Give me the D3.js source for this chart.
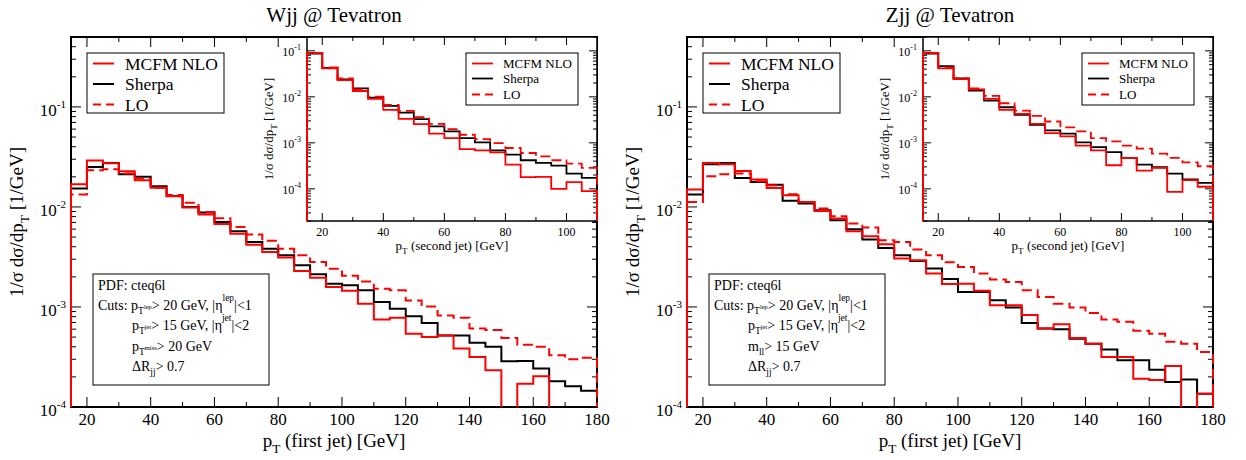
<!DOCTYPE html>
<html>
<head>
<meta charset="utf-8">
<script src="https://cdn.jsdelivr.net/npm/d3@7"></script>
<style>
  body { margin: 0; background: #fff; }
  svg text { font-family: "Liberation Serif", "DejaVu Serif", serif; }
</style>
</head>
<body>
<div id="chart"></div>
<script>
const width = 1246;
const height = 460;

// bin edges (GeV)
const mainEdges = [15, 20, 25, 30, 35, 40, 45, 50, 55, 60, 65, 70, 75, 80, 85, 90, 95, 100,
  105, 110, 115, 120, 125, 130, 135, 140, 145, 150, 155, 160, 165, 170, 175, 180];
const insetEdges = [15, 20, 25, 30, 35, 40, 45, 50, 55, 60, 65, 70, 75, 80, 85, 90, 95, 100, 105, 110];

// Wjj, first jet
const wjjSherpa = [0.0153, 0.0251, 0.0275, 0.0212, 0.0200, 0.0161, 0.0129, 0.0100, 0.00879, 0.00708,
  0.00571, 0.00447, 0.00383, 0.00329, 0.00261, 0.00212, 0.00171, 0.00165, 0.00147, 0.00112,
  0.00096, 0.00081, 0.00069, 0.00052, 0.00052, 0.00044, 0.00040, 0.000286, 0.000288, 0.000242,
  0.000181, 0.000161, 0.000145];
const wjjMcfm = [0.0169, 0.0292, 0.0273, 0.0228, 0.0185, 0.0156, 0.0128, 0.00986, 0.00838, 0.00676,
  0.0054, 0.0042, 0.00355, 0.00312, 0.00229, 0.00196, 0.00158, 0.00145, 0.00108, 0.00075,
  0.00078, 0.00054, 0.00050, 0.00052, 0.000384, 0.000316, 0.000233, 0, 0.000171, 0.000203,
  0, 0, 0];
const wjjLO = [0.0133, 0.0233, 0.0238, 0.0216, 0.0192, 0.0156, 0.0132, 0.0110, 0.0089, 0.0077,
  0.0063, 0.0053, 0.0046, 0.00383, 0.00329, 0.00282, 0.00241, 0.00205, 0.00180, 0.00152,
  0.00147, 0.00116, 0.00101, 0.00082, 0.00078, 0.00061, 0.00059, 0.00049, 0.00042, 0.00040,
  0.00033, 0.00030, 0.00031];

// Wjj, second jet (inset)
const wjj2Sherpa = [0.0875, 0.0428, 0.024, 0.0153, 0.0096, 0.00635, 0.00456, 0.00327, 0.00227, 0.00177,
  0.00127, 0.00102, 0.000687, 0.000554, 0.000418, 0.000366, 0.00032, 0.000215, 0.000173];
const wjj2Mcfm = [0.0905, 0.0415, 0.0232, 0.0134, 0.009, 0.0052, 0.00333, 0.00255, 0.00158, 0.00127,
  0.000734, 0.000687, 0.000622, 0.000337, 0.000179, 0.000182, 0.0001, 0.00014, 0.000089];
const wjj2LO = [0.0905, 0.0435, 0.0252, 0.0146, 0.0101, 0.00668, 0.00496, 0.00361, 0.00259, 0.00199,
  0.0015, 0.00121, 0.00099, 0.000773, 0.000602, 0.000509, 0.000418, 0.000354, 0.000285];

// Zjj, first jet
const zjjSherpa = [0.0133, 0.0267, 0.0275, 0.0195, 0.0178, 0.0167, 0.0115, 0.0108, 0.00927, 0.00736,
  0.00598, 0.00472, 0.00389, 0.00329, 0.00288, 0.00242, 0.0019, 0.00141, 0.00141, 0.00117,
  0.00099, 0.00069, 0.00061, 0.00060, 0.00048, 0.00043, 0.000375, 0.000293, 0.000293, 0.000236,
  0.000178, 0.000188, 0.000136];
const zjjMcfm = [0.0149, 0.0275, 0.0267, 0.0229, 0.0188, 0.0155, 0.0131, 0.0112, 0.00912, 0.00766,
  0.00571, 0.00509, 0.00424, 0.00305, 0.00293, 0.00216, 0.0017, 0.00171, 0.00145, 0.00104,
  0.00104, 0.00083, 0.00061, 0.00067, 0.00049, 0.00043, 0.000316, 0.000316, 0.000192, 0.000186,
  0.000257, 0, 0.000136];
const zjjLO = [0.0112, 0.0203, 0.0212, 0.0216, 0.0181, 0.0165, 0.0134, 0.0112, 0.00964, 0.00807,
  0.00682, 0.00622, 0.00465, 0.00447, 0.00375, 0.00329, 0.0028, 0.00251, 0.00216, 0.00188,
  0.00178, 0.00147, 0.00126, 0.00108, 0.00099, 0.00087, 0.00075, 0.00071, 0.00058, 0.00054,
  0.00045, 0.00043, 0.000355];

// Zjj, second jet (inset)
const zjj2Sherpa = [0.0875, 0.0466, 0.0252, 0.0136, 0.0083, 0.00594, 0.00406, 0.00247, 0.00186, 0.00158,
  0.00102, 0.00081, 0.00063, 0.000469, 0.000337, 0.000295, 0.000215, 0.00016, 0.000135];
const zjj2Mcfm = [0.0905, 0.0415, 0.0244, 0.0146, 0.009, 0.0052, 0.00427, 0.00259, 0.00163, 0.00138,
  0.00087, 0.000687, 0.000326, 0.000469, 0.000249, 0.000285, 0.0000862, 0.000154, 0.000111];
const zjj2LO = [0.0905, 0.0435, 0.0252, 0.0153, 0.0105, 0.00726, 0.00504, 0.00386, 0.00291, 0.00216,
  0.00177, 0.00127, 0.00108, 0.00087, 0.00075, 0.000582, 0.000469, 0.000378, 0.00031];

// axes
const mainXTicks = [20, 40, 60, 80, 100, 120, 140, 160, 180];
const mainXMinor = [30, 50, 70, 90, 110, 130, 150, 170];
const insetXTicks = [20, 40, 60, 80, 100];
const insetXMinor = [30, 50, 70, 90];
const yDecades = [1e-4, 1e-3, 1e-2, 1e-1];
const yDecadeLabels = ["-4", "-3", "-2", "-1"];
const legendLabels = ["MCFM NLO", "Sherpa", "LO"];
const titles = ["Wjj @ Tevatron", "Zjj @ Tevatron"];

const RED = "#ff0000";

const svg = d3.select("#chart").append("svg")
  .attr("width", width)
  .attr("height", height);

let clipId = 0;

// text with sub/superscripts: parts = [text, yOffset, fontSize]
function rich(t, parts) {
  let cur = 0;
  parts.forEach(([s, off, fs]) => {
    t.append("tspan").attr("dy", off - cur).attr("font-size", fs).text(s);
    cur = off;
  });
  return t;
}

function drawPanel(o) {
  const g = svg.append("g");
  const x = d3.scaleLinear().domain(o.xDomain).range([o.x0, o.x1]);
  const y = d3.scaleLog().domain(o.yDomain).range([o.y1, o.y0]);

  g.append("rect")
    .attr("x", o.x0).attr("y", o.y0)
    .attr("width", o.x1 - o.x0).attr("height", o.y1 - o.y0)
    .attr("fill", "#fff");

  // ticks, all four sides, pointing in
  const ticks = g.append("g").attr("stroke", "#000").attr("stroke-width", 1);
  const tx = (v, len) => {
    ticks.append("line").attr("x1", x(v)).attr("x2", x(v)).attr("y1", o.y1).attr("y2", o.y1 - len);
    ticks.append("line").attr("x1", x(v)).attr("x2", x(v)).attr("y1", o.y0).attr("y2", o.y0 + len);
  };
  const ty = (v, len) => {
    ticks.append("line").attr("y1", y(v)).attr("y2", y(v)).attr("x1", o.x0).attr("x2", o.x0 + len);
    ticks.append("line").attr("y1", y(v)).attr("y2", y(v)).attr("x1", o.x1).attr("x2", o.x1 - len);
  };
  o.xTicks.forEach(v => tx(v, o.major));
  o.xMinor.forEach(v => tx(v, o.minor));
  const decs = new Set(yDecades);
  y.ticks().forEach(v => {
    const isMajor = decs.has(+v.toPrecision(6));
    ty(v, isMajor ? o.major : o.minor);
  });

  // tick labels
  g.selectAll(".xl").data(o.xTicks).join("text")
    .attr("x", d => x(d)).attr("y", o.y1 + o.xLabelDy)
    .attr("text-anchor", "middle")
    .attr("font-size", o.tickFont)
    .text(d => d);
  yDecades.forEach((v, i) => {
    const t = g.append("text")
      .attr("x", o.x0 - o.yLabelDx).attr("y", y(v) + o.yLabelDy)
      .attr("text-anchor", "end");
    rich(t, [["10", 0, o.tickFont], [yDecadeLabels[i], -o.supShift, o.supFont]]);
  });

  // histograms
  const id = "clip" + (clipId++);
  g.append("clipPath").attr("id", id).append("rect")
    .attr("x", o.x0 - 2).attr("y", o.y0)
    .attr("width", o.x1 - o.x0 + 4).attr("height", o.y1 - o.y0);
  const below = o.y1 + 20;
  const yv = v => v > 0 ? y(v) : below;
  const line = d3.line();
  function hist(vals, edges, color, dash) {
    const pts = [[x(edges[0]), below]];
    vals.forEach((v, i) => {
      pts.push([x(edges[i]), yv(v)]);
      pts.push([x(edges[i + 1]), yv(v)]);
    });
    pts.push([x(edges[edges.length - 1]), below]);
    g.append("path")
      .attr("clip-path", `url(#${id})`)
      .attr("d", line(pts))
      .attr("fill", "none")
      .attr("stroke", color)
      .attr("stroke-width", o.lw)
      .attr("stroke-dasharray", dash || null);
  }

  // frame
  g.append("rect")
    .attr("x", o.x0).attr("y", o.y0)
    .attr("width", o.x1 - o.x0).attr("height", o.y1 - o.y0)
    .attr("fill", "none").attr("stroke", "#000").attr("stroke-width", o.frameW);

  hist(o.sherpa, o.edges, "#000");
  hist(o.lo, o.edges, RED, "10,5");
  hist(o.mcfm, o.edges, RED);

  // axis labels
  const xl = g.append("text")
    .attr("x", (o.x0 + o.x1) / 2).attr("y", o.y1 + o.xTitleDy)
    .attr("text-anchor", "middle");
  rich(xl, [["p", 0, o.titleFont], ["T", o.titleFont * 0.3, o.titleFont * 0.7],
    [o.xTitle, 0, o.titleFont]]);

  const cy = (o.y0 + o.y1) / 2;
  const yl = g.append("text")
    .attr("transform", `translate(${o.x0 - o.yTitleDx},${cy}) rotate(-90)`)
    .attr("text-anchor", "middle");
  rich(yl, [["1/σ  dσ/dp", 0, o.titleFont], ["T", o.titleFont * 0.3, o.titleFont * 0.7],
    [o.yTitleGap + "[1/GeV]", 0, o.titleFont]]);

  // legend
  const L = o.legend;
  g.append("rect")
    .attr("x", o.x0 + L.dx).attr("y", L.y)
    .attr("width", L.w).attr("height", L.h)
    .attr("fill", "#fff").attr("stroke", "#000").attr("stroke-width", 1);
  const styles = [[RED, null], ["#000", null], [RED, "8,5"]];
  legendLabels.forEach((s, i) => {
    const ly = L.rows[i];
    g.append("line")
      .attr("x1", o.x0 + L.lx1).attr("x2", o.x0 + L.lx2)
      .attr("y1", ly).attr("y2", ly)
      .attr("stroke", styles[i][0]).attr("stroke-width", o.lw)
      .attr("stroke-dasharray", styles[i][1]);
    g.append("text")
      .attr("x", o.x0 + L.tx).attr("y", ly + L.font * 0.35)
      .attr("font-size", L.font)
      .text(s);
  });
  return { x, y };
}

const mainCfg = {
  xDomain: [15, 180], yDomain: [1e-4, 0.5], y0: 37, y1: 407,
  xTicks: mainXTicks, xMinor: mainXMinor, major: 10, minor: 5,
  tickFont: 17, supFont: 11, supShift: 8, xLabelDy: 18, yLabelDx: 5, yLabelDy: 9,
  titleFont: 19, xTitleDy: 40, xTitle: " (first jet) [GeV]", yTitleDx: 48, yTitleGap: "  ",
  edges: mainEdges, lw: 2, frameW: 2,
  legend: { dx: 16, y: 53, w: 137, h: 60, rows: [63.5, 84, 104.5], lx1: 22, lx2: 43, tx: 54, font: 17.5 }
};
const insetCfg = {
  xDomain: [15, 110], yDomain: [2e-5, 0.2], y0: 37, y1: 221,
  xTicks: insetXTicks, xMinor: insetXMinor, major: 8, minor: 4,
  tickFont: 12, supFont: 8, supShift: 6, xLabelDy: 15, yLabelDx: 6, yLabelDy: 5,
  titleFont: 13, xTitleDy: 29, xTitle: " (second jet) [GeV]", yTitleDx: 34, yTitleGap: " ",
  edges: insetEdges, lw: 1.8, frameW: 1.5,
  legend: { dx: 159, y: 53, w: 112, h: 52, rows: [63.5, 78.5, 94.5], lx1: 165, lx2: 186, tx: 196, font: 13 }
};

function cutsBox(x0, lastLine) {
  const g = svg.append("g");
  g.append("rect")
    .attr("x", x0 + 22).attr("y", 274)
    .attr("width", 176).attr("height", 111)
    .attr("fill", "#fff").attr("stroke", "#000").attr("stroke-width", 1);
  const fs = 14, sm = 9.5, tiny = 6.5;
  const tx = x0 + 27, ind = x0 + 61;
  g.append("text").attr("x", tx).attr("y", 290).attr("font-size", fs).text("PDF: cteq6l");
  rich(g.append("text").attr("x", tx).attr("y", 310),
    [["Cuts: p", 0, fs], ["T", 4, sm], ["lep", -1, tiny], ["> 20 GeV, |η", 0, fs],
     ["lep", -9, sm], ["|<1", 0, fs]]);
  rich(g.append("text").attr("x", ind).attr("y", 330),
    [["p", 0, fs], ["T", 4, sm], ["jet", -1, tiny], ["> 15 GeV, |η", 0, fs],
     ["jet", -9, sm], ["|<2", 0, fs]]);
  rich(g.append("text").attr("x", ind).attr("y", 350.5), lastLine);
  rich(g.append("text").attr("x", ind).attr("y", 371),
    [["ΔR", 0, fs], ["jj", 4, sm], ["> 0.7", 0, fs]]);
}

const panels = [
  { x0: 71, title: titles[0], main: [wjjSherpa, wjjMcfm, wjjLO], inset: [wjj2Sherpa, wjj2Mcfm, wjj2LO],
    line4: [["p", 0, 14], ["T", 4, 9.5], ["miss", -1, 6.5], ["> 20 GeV", 0, 14]] },
  { x0: 687, title: titles[1], main: [zjjSherpa, zjjMcfm, zjjLO], inset: [zjj2Sherpa, zjj2Mcfm, zjj2LO],
    line4: [["m", 0, 14], ["ll", 4, 9.5], ["> 15 GeV", 0, 14]] }
];

panels.forEach(p => {
  const x1 = p.x0 + 526;
  drawPanel(Object.assign({}, mainCfg, {
    x0: p.x0, x1: x1, sherpa: p.main[0], mcfm: p.main[1], lo: p.main[2]
  }));
  cutsBox(p.x0, p.line4);
  drawPanel(Object.assign({}, insetCfg, {
    x0: p.x0 + 236, x1: x1, sherpa: p.inset[0], mcfm: p.inset[1], lo: p.inset[2]
  }));
  svg.append("text")
    .attr("x", (p.x0 + x1) / 2).attr("y", 22)
    .attr("text-anchor", "middle")
    .attr("font-size", 21)
    .text(p.title);
});
</script>
</body>
</html>
